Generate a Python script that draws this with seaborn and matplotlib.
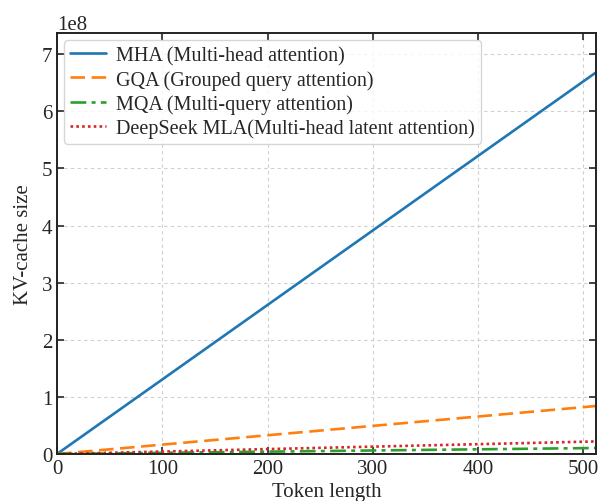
import matplotlib
matplotlib.use("Agg")
import matplotlib.pyplot as plt
import seaborn as sns
import pandas as pd

token_length = [0, 512]
mha = [0, 6.68e8]
gqa = [0, 0.84e8]
mqa = [0, 0.105e8]
mla = [0, 0.22e8]
labels = ["MHA (Multi-head attention)", "GQA (Grouped query attention)",
          "MQA (Multi-query attention)", "DeepSeek MLA(Multi-head latent attention)"]

sns.set_theme(style="ticks")
plt.rcParams['font.family'] = ['Liberation Serif', 'DejaVu Serif']
plt.rcParams['mathtext.fontset'] = 'stix'

fig = plt.figure(figsize=(6, 5.02), dpi=100)
ax = fig.add_axes([57/600, (502-455)/502, (596-57)/600, (455-34)/502])

styles = [("#1f77b4", "-", 1.9), ("#ff7f0e", (0, (5.5, 2.5)), 1.9),
          ("#2ca02c", (0, (6, 2, 1.5, 2)), 1.9), ("#d62728", (0, (1, 1.2)), 1.9)]
for vals, lab, (c, ls, lw) in zip([mha, gqa, mqa, mla], labels, styles):
    df = pd.DataFrame({"x": token_length, "y": vals})
    sns.lineplot(data=df, x="x", y="y", ax=ax, color=c, linestyle=ls, linewidth=lw, label=lab)

ax.set_xlim(0, 512)
ax.set_ylim(0, 7.37e8)
ax.set_xticks([0, 100, 200, 300, 400, 500])
ax.set_yticks([0, 1e8, 2e8, 3e8, 4e8, 5e8, 6e8, 7e8])
ax.grid(True, linestyle=(0, (3, 3)), color="#cfcfcf", linewidth=0.8)
ax.tick_params(direction="in", top=True, right=True, labelsize=15, length=5, width=1.2)
for s in ax.spines.values():
    s.set_linewidth(1.4)
    s.set_color("#222222")
ax.set_xlabel("Token length", fontsize=15, labelpad=3)
ax.set_ylabel("KV-cache size", fontsize=15, labelpad=6)
ax.yaxis.get_offset_text().set_fontsize(15)
leg = ax.legend(loc="upper left", fontsize=14.5, frameon=True, handlelength=1.8,
                borderpad=0.3, labelspacing=0.22, handletextpad=0.5,
                borderaxespad=0.35)
leg.get_frame().set_edgecolor("#cccccc")
fig.savefig("out.png", dpi=100)
